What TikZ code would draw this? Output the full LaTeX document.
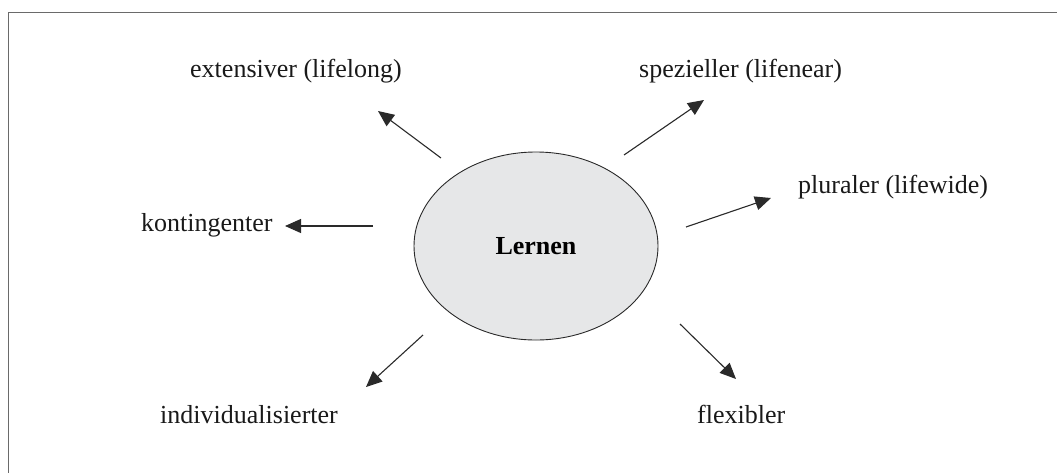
\documentclass[tikz,border=0pt]{standalone}
\usepackage{fontspec}
\setmainfont{Liberation Serif}
\usetikzlibrary{shapes.geometric,arrows.meta}
\definecolor{framegray}{HTML}{6A6A6A}
\definecolor{ellfill}{HTML}{E6E7E8}
\definecolor{linegray}{HTML}{2A2A2A}
\tikzset{
  lbl/.style={anchor=base west, inner sep=0pt, font=\fontsize{26}{30}\selectfont, text=black!90},
  arr/.style={draw=linegray, line width=1.1pt, -{Triangle[length=16pt,width=14pt]}},
  frame/.style={draw=framegray, line width=1.8pt},
}
\begin{document}
\begin{tikzpicture}[x=1pt,y=-1pt]
\useasboundingbox (0,0) rectangle (1057,472);
\coordinate (ftr) at (1058,12.5);
\coordinate (fc) at (8.5,12.5);
\coordinate (fbl) at (8.5,473);
\draw[frame] (ftr) -- (fc) -- (fbl);

\node[ellipse, draw=linegray, line width=0.9pt, fill=ellfill, minimum width=244, minimum height=188, inner sep=0pt,
      font=\fontsize{26}{30}\selectfont\bfseries] (lernen) at (536,246) {Lernen};

\node[lbl] (ext) at (190,77) {extensiver (lifelong)};
\node[lbl] (spe) at (639,77) {spezieller (lifenear)};
\node[lbl] (plu) at (798,193) {pluraler (lifewide)};
\node[lbl] (kon) at (141,231) {kontingenter};
\node[lbl] (ind) at (160,423) {individualisierter};
\node[lbl] (fle) at (697,423) {flexibler};

\coordinate (a1s) at (441,158); \coordinate (a1e) at (378,111);
\coordinate (a2s) at (624,155); \coordinate (a2e) at (704,100);
\coordinate (a3s) at (686,227); \coordinate (a3e) at (771,198);
\coordinate (a4s) at (373,226); \coordinate (a4e) at (285,226);
\coordinate (a5s) at (423,335); \coordinate (a5e) at (366,387);
\coordinate (a6s) at (680,324); \coordinate (a6e) at (736,379);
\draw[arr] (a1s) -- (a1e);
\draw[arr] (a2s) -- (a2e);
\draw[arr] (a3s) -- (a3e);
\draw[arr] (a4s) -- (a4e);
\draw[arr] (a5s) -- (a5e);
\draw[arr] (a6s) -- (a6e);
\end{tikzpicture}
\end{document}
